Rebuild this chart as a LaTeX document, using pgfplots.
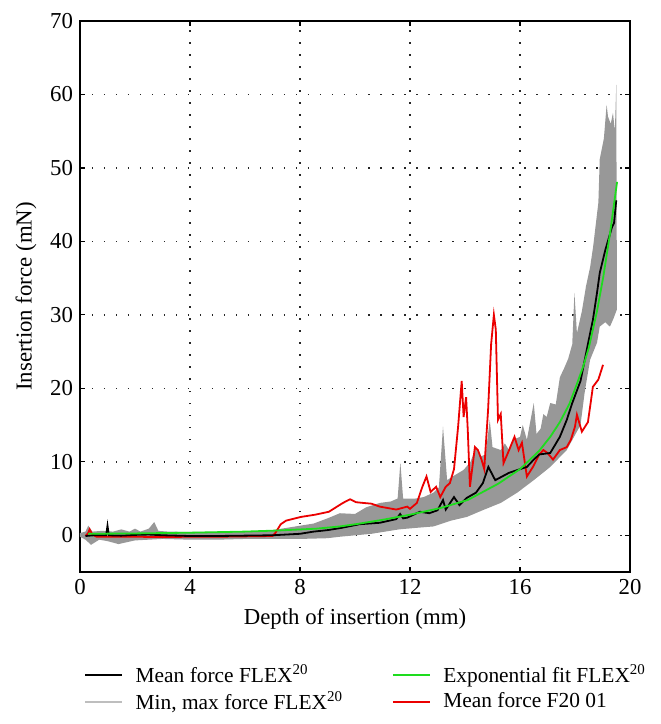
\documentclass[border=0pt]{standalone}
\usepackage{fontspec}
\setmainfont{Liberation Serif}
\usepackage{pgfplots}
\pgfplotsset{compat=1.18}
\definecolor{bandgray}{RGB}{152,152,152}
\definecolor{leggray}{RGB}{190,190,190}
\definecolor{fitgreen}{RGB}{30,220,30}
\definecolor{meanred}{RGB}{235,0,0}
\begin{document}
\begin{tikzpicture}[font=\fontsize{11.4}{13.7}\selectfont]
\begin{axis}[
  at={(0,0)}, anchor=south west,
  width=275pt, height=275.5pt, scale only axis,
  xmin=0, xmax=20, ymin=-5, ymax=70,
  xtick={0,4,...,20}, ytick={0,10,...,70},
  /pgf/number format/assume math mode=true,
  tick align=inside, major tick length=2.5pt,
  tick style={black, line width=0.6pt},
  axis line style={line width=0.8pt},
  grid=major,
  major grid style={black!85, line width=0.75pt, dash pattern=on 0.75pt off 5.25pt},
  xlabel={Depth of insertion (mm)},
  ylabel={Insertion force (mN)},
  legend columns=2,
  legend cell align=left,
  legend style={draw=none, fill=none, at={(0,0)}, anchor=north west,
    xshift=2pt, yshift=-44pt, inner sep=0pt, row sep=-1pt,
    /tikz/every even column/.append style={column sep=22.5pt},
    font=\fontsize{10.7}{12.8}\selectfont},
  legend image code/.code={\draw[#1, line width=0.9pt] (0pt,0pt) -- (18.5pt,0pt);\path (23pt,0pt);},
]
% min-max band
\addplot[fill=bandgray, draw=none, forget plot] coordinates {
(0,0.3) (0.2,0.5) (0.3,1.3) (0.45,0.5) (0.8,0.6) (1.2,0.5) (1.5,0.8) (1.8,0.5)
(2.0,0.9) (2.2,0.5) (2.5,0.9) (2.7,1.8) (2.85,0.6) (3.2,0.5) (4,0.45) (5,0.45)
(6,0.5) (7,0.7) (7.5,1.0) (8,1.3) (8.5,1.6) (9,2.3) (9.45,3.0) (10,2.9) (10.4,3.8)
(10.9,4.4) (11.3,4.6) (11.55,5.0) (11.65,9.9) (11.75,5.0) (12.2,5.0) (12.5,5.2)
(12.85,5.8) (13.05,6.5) (13.2,14.8) (13.35,7.5) (13.55,8.0) (13.95,8.9) (14.2,10.0)
(14.4,12.0) (14.55,10.7) (14.75,11.0) (14.9,15.7) (15.0,12.0) (15.3,11.6) (15.45,12.5)
(15.6,11.6) (15.75,13.0) (16.0,13.4) (16.1,15.0) (16.25,13.0) (16.5,18.0)
(16.6,13.8) (16.75,14.5) (16.85,16.5) (16.97,16.1) (17.1,18.0) (17.3,17.8) (17.45,21.5)
(17.6,22.7) (17.75,24.0) (17.9,26.0) (17.98,33.0) (18.07,27.5) (18.25,30.5) (18.4,33.9)
(18.55,36.5) (18.66,39.3) (18.85,45.3) (18.9,51.2) (19.05,54.0) (19.15,58.6) (19.2,57.0)
(19.3,56.0) (19.38,57.5) (19.45,55.0) (19.5,61.3)
(19.52,38.0) (19.52,30.7) (19.4,29.5) (19.27,28.4) (19.1,29.0) (18.9,28.4) (18.8,26.2)
(18.55,23.9) (18.35,19.4) (18.2,15.0) (17.7,11.6) (17.1,9.3) (16.5,7.5) (15.9,5.8)
(15.3,4.4) (14.7,3.5) (14.07,2.5) (13.5,2.0) (12.85,1.2) (12.2,1.0) (11.6,0.8)
(10.6,0.2) (9.45,-0.2) (9,-0.4) (8,-0.5) (7,-0.5) (6,-0.5) (5,-0.6)
(4,-0.6) (3,-0.5) (2,-0.7) (1.4,-1.2) (1.0,-0.8) (0.7,-0.6) (0.4,-1.3) (0.2,-0.6) (0,-0.2)
};
% red mean force F20 01
\addplot[meanred, line width=0.9pt, forget plot] coordinates {
(0.2,-0.1) (0.3,0.3) (0.35,0.8) (0.45,0.1) (0.6,-0.2) (1,-0.2) (2,-0.2) (3,-0.25)
(4,-0.2) (5,-0.2) (6,-0.15) (7.0,-0.1) (7.1,0.3) (7.3,1.5) (7.5,2.0) (8.04,2.5)
(8.55,2.8) (9.05,3.2) (9.56,4.4) (9.82,4.9) (10.04,4.5) (10.3,4.4) (10.6,4.3)
(10.9,3.9) (11.5,3.5) (11.9,3.9) (12.0,3.6) (12.25,4.4) (12.45,6.6) (12.6,8.0)
(12.75,5.9) (12.95,6.6) (13.1,5.2) (13.3,6.6) (13.45,7.1) (13.6,9.0) (13.75,14.8)
(13.88,21.0) (13.95,16.1) (14.04,18.8) (14.1,14.4) (14.18,6.6) (14.36,12.0) (14.47,11.6)
(14.6,10.3) (14.7,9.0) (14.84,17.1) (14.95,26.0) (15.05,30.0) (15.12,28.0) (15.2,15.7)
(15.3,16.5) (15.4,9.8) (15.56,11.2) (15.8,13.4) (15.95,11.6) (16.07,12.6)
(16.25,8.0) (16.47,9.3) (16.7,11.0) (16.85,11.6) (17.0,11.2) (17.2,10.3) (17.45,11.6)
(17.7,12.0) (17.85,13.0) (18.0,14.8) (18.07,16.4) (18.25,14.1) (18.47,15.4) (18.55,17.5) (18.65,20.2)
(18.85,21.2) (19.02,23.2)
};
% black mean force FLEX20
\addplot[black, line width=0.9pt, forget plot] coordinates {
(0.2,-0.1) (0.5,0) (0.95,0) (1.0,1.3) (1.05,0) (1.5,-0.05) (2,0.05) (2.5,0.1)
(3,0) (4,-0.1) (5,-0.1) (6,-0.05) (7,0.0) (7.5,0.1) (8,0.2) (8.5,0.5) (9,0.7)
(9.5,1.0) (10.16,1.5) (10.9,1.7) (11.5,2.2) (11.64,2.9) (11.75,2.3) (11.9,2.4)
(12.36,3.2) (12.7,3.0) (13.0,3.4) (13.2,4.8) (13.3,3.5) (13.6,5.2) (13.8,4.1)
(14.07,5.1) (14.4,5.8) (14.65,7.1) (14.85,9.3) (15.1,7.5) (15.35,8.0) (15.6,8.5)
(16.0,9.0) (16.25,9.3) (16.5,10.3) (16.7,11.0) (17.1,11.2) (17.45,13.4) (17.7,15.7)
(17.9,18.0) (18.2,21.0) (18.55,27.5) (18.65,29.3) (18.8,33.0) (18.9,35.7)
(19.1,38.8) (19.35,42.0) (19.42,42.5) (19.5,45.6)
};
% green exponential fit
\addplot[fitgreen, line width=0.9pt, forget plot] coordinates {
(0.3,0.2) (2,0.25) (4,0.35) (6,0.5) (7.2,0.65) (8.6,0.9) (9.45,1.2) (10.1,1.55)
(11,2.1) (12,2.8) (13.1,3.7) (14.1,4.8) (15.2,7.0) (16,9.0) (16.7,11.5) (17.1,13.4)
(17.45,15.4) (17.8,17.9) (18.07,20.6) (18.3,23.0) (18.5,25.5) (18.8,30.5) (19.03,35.2)
(19.27,41.0) (19.53,48.1)
};
\addlegendimage{black}
\addlegendentry{Mean force FLEX\textsuperscript{20}}
\addlegendimage{fitgreen}
\addlegendentry{Exponential fit FLEX\textsuperscript{20}}
\addlegendimage{leggray}
\addlegendentry{Min, max force FLEX\textsuperscript{20}}
\addlegendimage{meanred}
\addlegendentry{Mean force F20 01}
\end{axis}
\pgfresetboundingbox
\useasboundingbox (-40pt,-76pt) rectangle (290pt,286pt);
\end{tikzpicture}
\end{document}
